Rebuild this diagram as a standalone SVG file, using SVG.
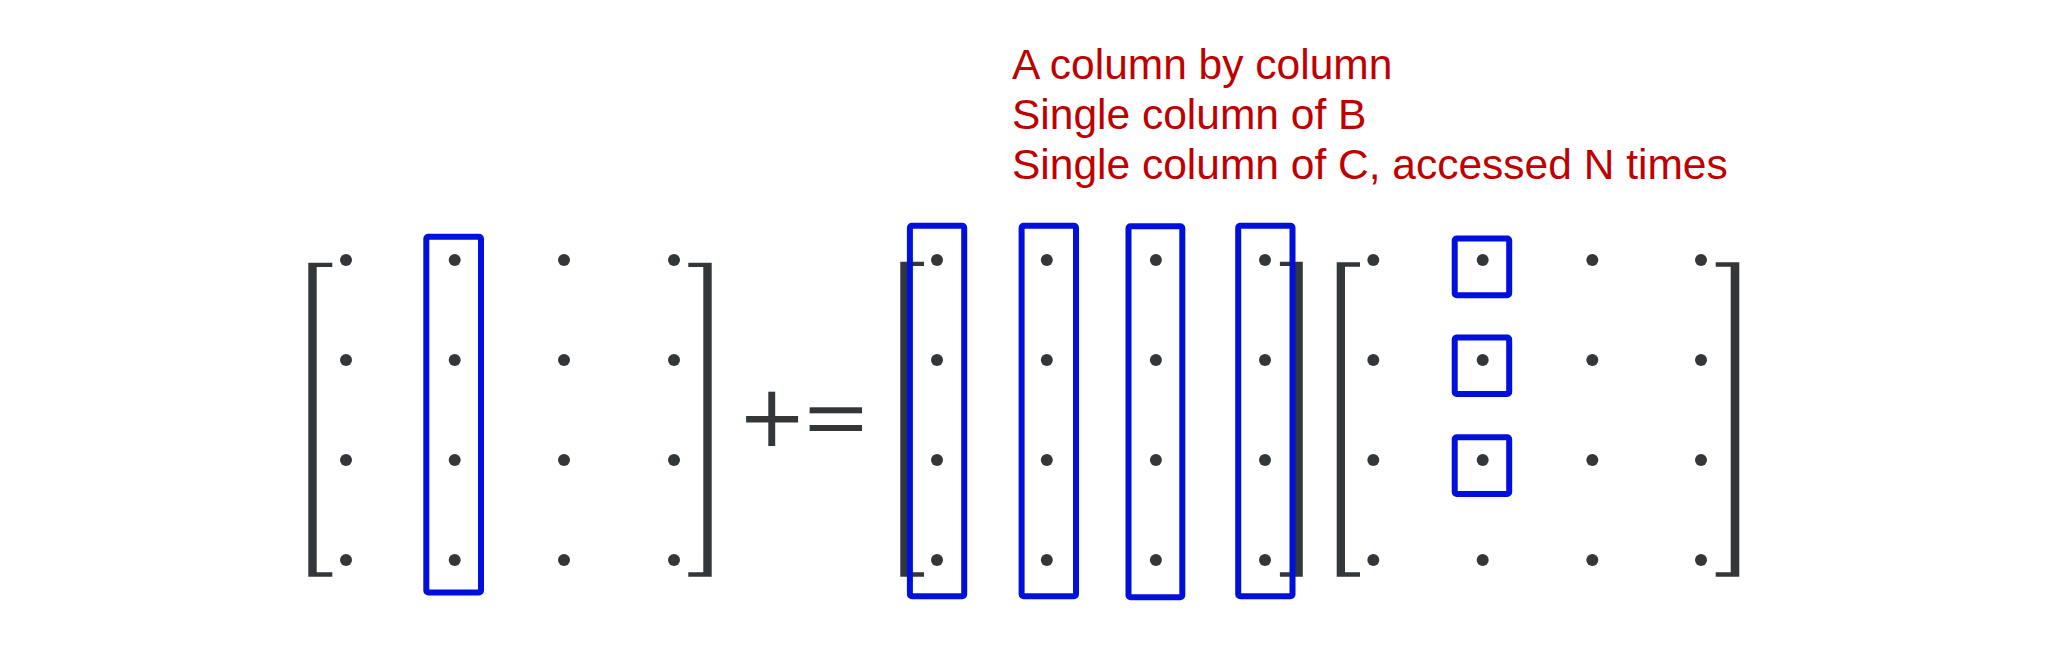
<svg xmlns="http://www.w3.org/2000/svg" width="2048" height="660" viewBox="0 0 2048 660">
<style>
.ink{fill:#34373a}
.sel{fill:none;stroke:#0010dc;stroke-width:6;stroke-linejoin:round}
.note{fill:#c00000;font-family:"Liberation Sans",Arial,sans-serif;font-size:42.5px}
</style>
<defs>
<g id="dots">
<circle cx="0" cy="260" r="6"/><circle cx="0" cy="360" r="6"/><circle cx="0" cy="460" r="6"/><circle cx="0" cy="560" r="6"/>
</g>
</defs>
<rect width="2048" height="660" fill="#fff"/>

<g id="label">
<text class="note" x="1012" y="79">A column by column</text>
<text class="note" x="1012" y="129">Single column of B</text>
<text class="note" x="1012" y="179">Single column of C, accessed N times</text>
</g>

<g id="matrixC">
<path class="ink" d="M308.3 262.7H332.3V267H316.7V572.3H332.3V576.7H308.3Z"/>
<path class="ink" d="M711.7 262.7H688.3V267H703.3V572.3H688.3V576.7H711.7Z"/>
<g class="ink">
<use href="#dots" x="346"/><use href="#dots" x="454.7"/><use href="#dots" x="564"/><use href="#dots" x="674"/>
</g>
<rect class="sel" x="426.3" y="236.7" width="54.7" height="355.8" rx="2"/>
</g>

<g id="operator">
<rect class="ink" x="768.3" y="391.7" width="6.9" height="54.3"/>
<rect class="ink" x="746.1" y="416" width="52" height="6.5"/>
<rect class="ink" x="809.6" y="407.3" width="52.4" height="6"/>
<rect class="ink" x="809.6" y="425" width="52.4" height="6"/>
</g>

<g id="matrixA">
<path class="ink" d="M900.3 261.7H924V266H909.9V572.3H924V576.7H900.3Z"/>
<path class="ink" d="M1302.8 261.7H1279.9V266H1292.5V572.3H1279.9V576.7H1302.8Z"/>
<g class="ink">
<use href="#dots" x="937"/><use href="#dots" x="1046.8"/><use href="#dots" x="1155.9"/><use href="#dots" x="1265"/>
</g>
<rect class="sel" x="909.9" y="225.8" width="54.3" height="370.4" rx="2"/>
<rect class="sel" x="1021.6" y="225.8" width="54.4" height="370.4" rx="2"/>
<rect class="sel" x="1128.5" y="226.3" width="53.8" height="371" rx="2"/>
<rect class="sel" x="1238.2" y="225.8" width="54.3" height="370.4" rx="2"/>
</g>

<g id="matrixB">
<path class="ink" d="M1336.7 262.3H1360V266.7H1345V572.3H1360V576.7H1336.7Z"/>
<path class="ink" d="M1739.3 262.3H1715.7V266.7H1730.7V572.3H1715.7V576.7H1739.3Z"/>
<g class="ink">
<use href="#dots" x="1373.3"/><use href="#dots" x="1482.7"/><use href="#dots" x="1592.3"/><use href="#dots" x="1701"/>
</g>
<rect class="sel" x="1454.7" y="238.5" width="54.5" height="56.7" rx="2"/>
<rect class="sel" x="1454.7" y="337.5" width="54.5" height="56.5" rx="2"/>
<rect class="sel" x="1454.7" y="437.2" width="54.5" height="56.8" rx="2"/>
</g>
</svg>
